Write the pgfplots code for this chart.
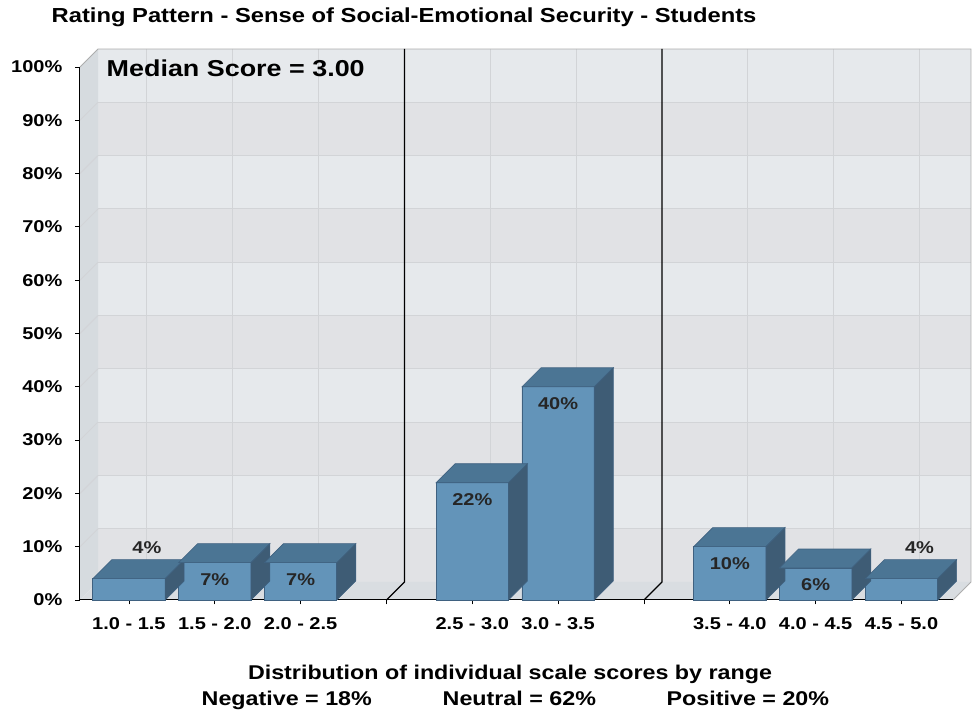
\documentclass[border=0pt]{standalone}
\usepackage{fontspec}
\setmainfont{Liberation Sans}[FakeStretch=1.17]
\usepackage{pgfplots}
\usepackage{pgfplotstable}
\pgfplotsset{compat=1.18}

\definecolor{wallA}{HTML}{E6E9EC}
\definecolor{wallB}{HTML}{E1E2E5}
\definecolor{sidewall}{HTML}{D6DBDF}
\definecolor{floorc}{HTML}{D9DDE1}
\definecolor{gridc}{HTML}{D2D4D7}
\definecolor{edgegray}{HTML}{ADADAD}
\definecolor{barfront}{HTML}{6394B9}
\definecolor{bartop}{HTML}{4B7594}
\definecolor{barside}{HTML}{3E5C75}
\definecolor{baredge}{HTML}{3F6180}

% score ranges placed at 0..9, gaps at 3 and 6
\pgfplotstableread{
pos val
0 4
1 7
2 7
4 22
5 40
7 10
8 6
9 4
}\bars

% top and side faces of a 3d bar, drawn at the top front centre of each bar
\pgfdeclareplotmark{bar3d}{%
  \pgfmathsetmacro\hh{\barval*5.33}%
  \path[fill=bartop, draw=baredge, line width=0.6pt]
    (-36.15pt,0pt) -- (-17.15pt,19pt) -- (55.15pt,19pt) -- (36.15pt,0pt) -- cycle;
  \path[fill=barside, draw=baredge, line width=0.6pt]
    (36.15pt,0pt) -- (55.15pt,19pt) -- (55.15pt,19pt-\hh pt) -- (36.15pt,-\hh pt) -- cycle;
}

\newcommand\labfont{\fontsize{17.1}{18}\selectfont\bfseries}

\begin{document}
\begin{tikzpicture}
\useasboundingbox (0,0) rectangle (972pt,712pt);

% walls, floor, grid (image coordinates, y down)
\begin{scope}[x=1pt, y=-1pt, shift={(0pt,712pt)}]
  \foreach \i in {0,2,4,6,8}
    \fill[wallB] (98,{582-53.3*\i}) rectangle (971,{582-53.3*(\i+1)});
  \foreach \i in {1,3,5,7,9}
    \fill[wallA] (98,{582-53.3*\i}) rectangle (971,{582-53.3*(\i+1)});
  \fill[sidewall] (80,67) -- (98,49) -- (98,582) -- (80,600) -- cycle;
  \foreach \i in {1,...,9} {
    \draw[gridc, line width=0.9pt] (98,{582-53.3*\i}) -- (971,{582-53.3*\i});
    \draw[gridc, line width=0.9pt] (80,{600-53.3*\i}) -- (98,{582-53.3*\i});
  }
  \foreach \p in {0,1,2,4,5,7,8,9}
    \draw[gridc, line width=0.9pt] ({98+(\p+0.57)*85.84},49) -- ({98+(\p+0.57)*85.84},582);
  \fill[floorc] (80,600) -- (98,582) -- (971,582) -- (953,600) -- cycle;
  \draw[edgegray, line width=0.9pt] (80,67) -- (98,49) -- (971,49) -- (971,582) -- (953,600);
  \foreach \p in {3,6}
    \draw[black, line width=1.2pt] ({98+(\p+0.57)*85.84},49) -- ({98+(\p+0.57)*85.84},582)
      -- ({80+(\p+0.57)*85.84},600);
\end{scope}

\begin{axis}[
  at={(80pt,112pt)}, anchor=south west,
  scale only axis, width=873pt, height=533pt,
  xmin=-0.57, xmax=9.6, ymin=0, ymax=100,
  clip=false,
  axis x line*=bottom, axis y line*=left,
  axis line style={-, black, line width=1pt},
  every outer x axis line/.append style={-},
  every outer y axis line/.append style={-},
  xtick={0,...,9},
  xticklabels={1.0 - 1.5, 1.5 - 2.0, 2.0 - 2.5, {}, 2.5 - 3.0, 3.0 - 3.5, {}, 3.5 - 4.0, 4.0 - 4.5, 4.5 - 5.0},
  ytick={0,10,...,100},
  yticklabels={0\%,10\%,20\%,30\%,40\%,50\%,60\%,70\%,80\%,90\%,100\%},
  tick align=outside, major tick length=4.5pt,
  tick style={black, line width=0.8pt},
  xticklabel style={anchor=north, inner sep=0pt, yshift=-13pt, font=\labfont},
  yticklabel style={anchor=east, inner sep=0pt, xshift=-13pt, font=\labfont},
]
\addplot[only marks, mark=bar3d,
  visualization depends on={\thisrow{val}\as\barval}]
  table[x=pos, y=val] {\bars};
\addplot[ybar, bar width=72.3pt, bar shift=0pt,
  fill=barfront, draw=baredge, line width=0.6pt]
  table[x=pos, y=val] {\bars};
\addplot[draw=none, nodes near coords, point meta=explicit symbolic,
  nodes near coords style={anchor=center, yshift=-17pt, font=\labfont, text=black!85}]
  coordinates {(1,7) [7\%] (2,7) [7\%] (4,22) [22\%] (5,40) [40\%] (7,10) [10\%] (8,6) [6\%]};
\addplot[draw=none, nodes near coords, point meta=explicit symbolic,
  nodes near coords style={anchor=center, xshift=18pt, yshift=31pt, font=\labfont, text=black!85}]
  coordinates {(0,4) [4\%] (9,4) [4\%]};
\end{axis}

% texts
\begin{scope}[x=1pt, y=-1pt, shift={(0pt,712pt)}]
  \node[anchor=base west, inner sep=0pt] at (51.5,23)
    {\fontsize{20.3}{22}\selectfont\bfseries Rating Pattern - Sense of Social-Emotional Security - Students};
  \node[anchor=base west, inner sep=0pt] at (106.5,77)
    {\fontsize{23}{25}\selectfont\bfseries Median Score = 3.00};
  \node[anchor=base, inner sep=0pt] at (510,680)
    {\fontsize{19.9}{21}\selectfont\bfseries Distribution of individual scale scores by range};
  \node[anchor=base west, inner sep=0pt] at (201.5,706)
    {\fontsize{19.9}{21}\selectfont\bfseries Negative = 18\%};
  \node[anchor=base west, inner sep=0pt] at (442.5,706)
    {\fontsize{19.9}{21}\selectfont\bfseries Neutral = 62\%};
  \node[anchor=base west, inner sep=0pt] at (666.5,706)
    {\fontsize{19.9}{21}\selectfont\bfseries Positive = 20\%};
\end{scope}
\end{tikzpicture}
\end{document}
